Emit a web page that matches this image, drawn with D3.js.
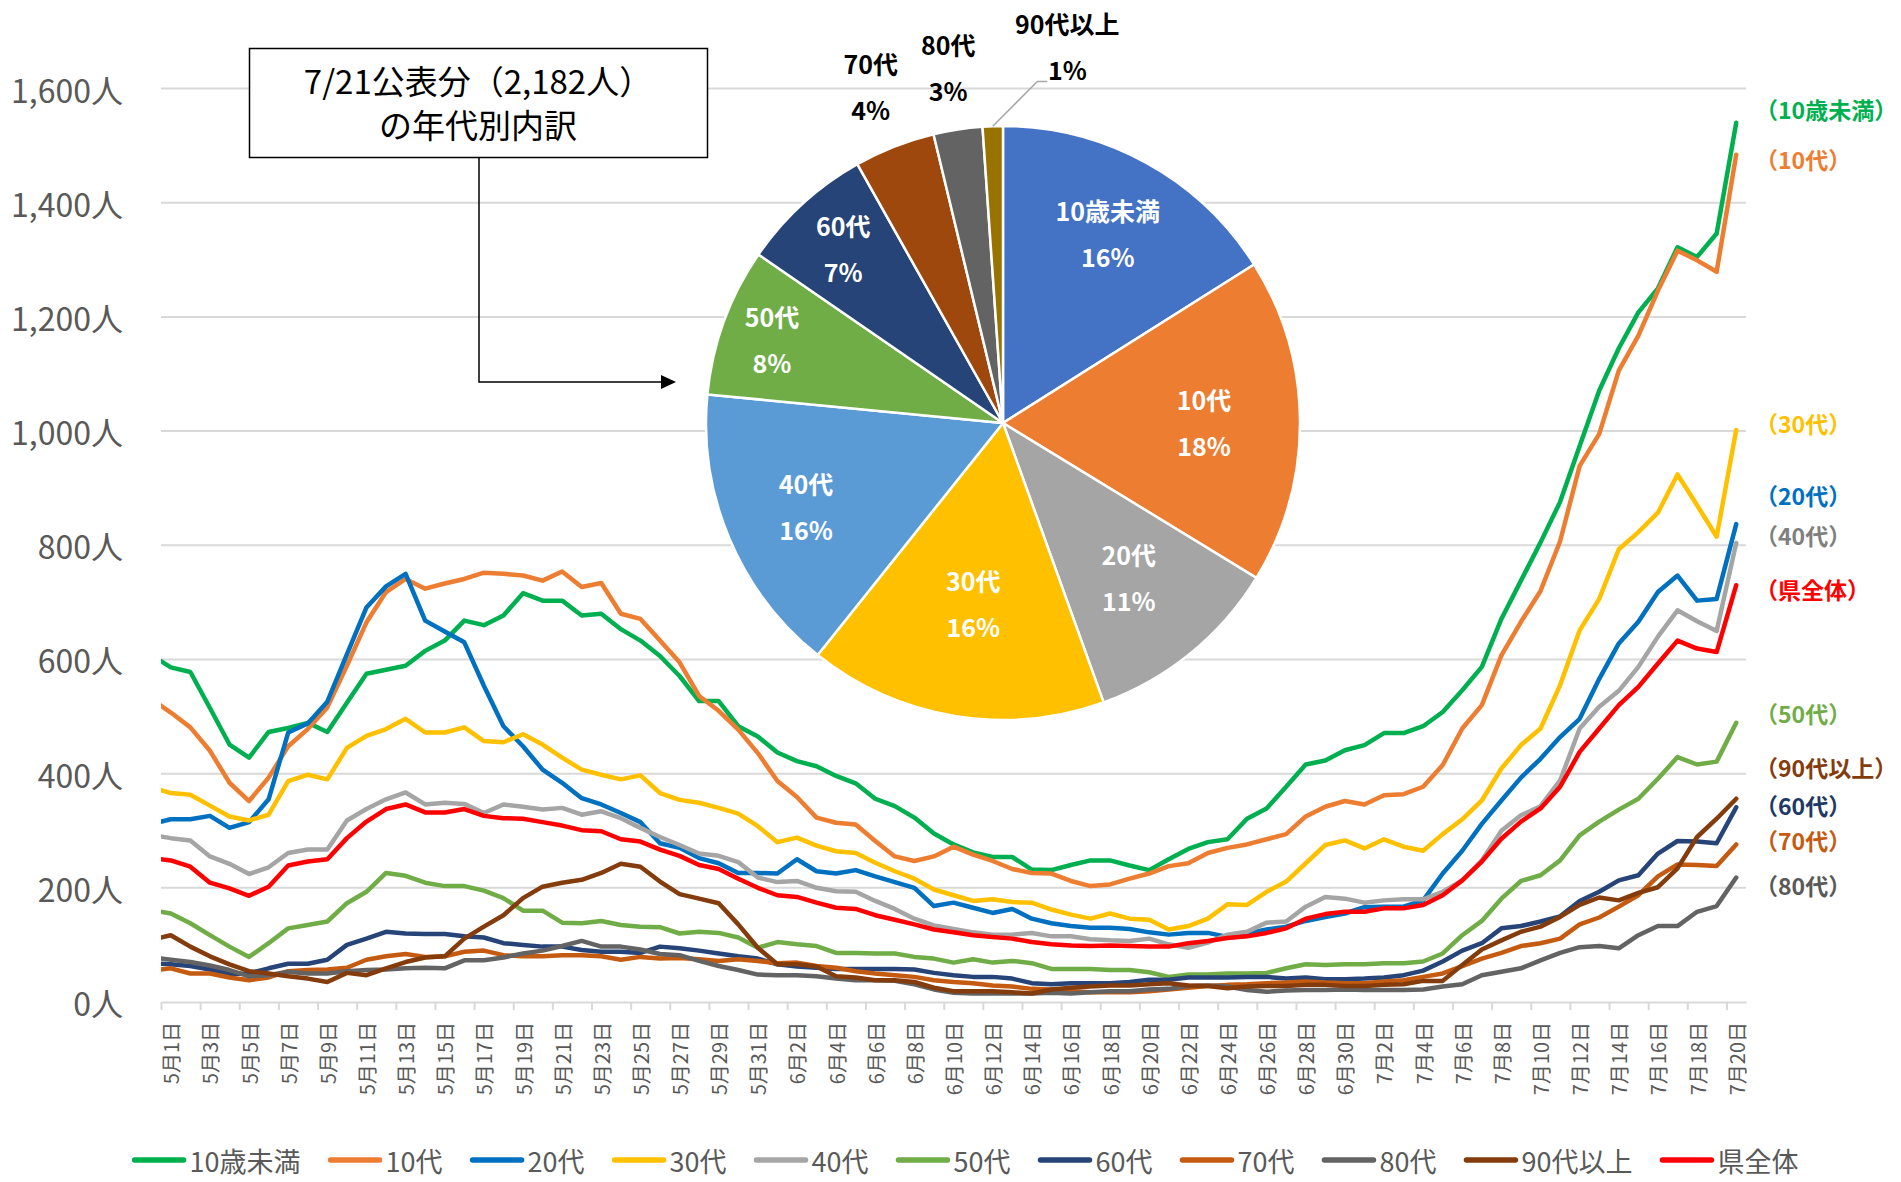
<!DOCTYPE html>
<meta charset="utf-8">
<style>
  body { margin: 0; background: #fff; }
  text { font-family: "Noto Sans CJK JP", "Noto Sans", sans-serif; }
  .grid line { stroke: #d9d9d9; stroke-width: 2; }
  .series { fill: none; stroke-width: 4.5; stroke-linejoin: round; stroke-linecap: round; }
  .ylab, .xlab, .legend text { fill: #595959; }
  .xaxis path, .xaxis line { stroke: #d9d9d9; stroke-width: 2; }
</style>
<body></body>
<script src="https://d3js.org/d3.v7.min.js"></script>
<script>
// categories: 4/30 (only the edge of it shows at the left) .. 7/20
var dates = d3.timeDay.range(new Date(2022, 3, 30), new Date(2022, 6, 21))
  .map(d => (d.getMonth() + 1) + '月' + d.getDate() + '日');

var names = ['10歳未満', '10代', '20代', '30代', '40代', '50代', '60代', '70代', '80代', '90代以上', '県全体'];

var under10 = [608,
  586, 578, 515, 451, 428, 473, 480, 489, 473, 524, 575, 582, 589, 615, 633, 668, 660, 677, 716, 703,
  703, 677, 680, 653, 633, 606, 571, 527, 527, 483, 465, 437, 422, 413, 396, 383, 356, 343, 323, 295,
  276, 262, 254, 254, 232, 231, 240, 248, 248, 239, 231, 250, 268, 280, 285, 321, 339, 377, 416, 423,
  441, 450, 471, 471, 483, 508, 546, 587, 671, 738, 805, 876, 974, 1071, 1145, 1208, 1250, 1322, 1305, 1346, 1540];
var teens = [531,
  507, 481, 440, 384, 352, 393, 448, 478, 516, 589, 665, 718, 741, 724, 733, 741, 752, 750, 747, 738,
  754, 727, 734, 680, 671, 633, 595, 536, 510, 477, 436, 387, 359, 323, 314, 311, 282, 255, 247, 255,
  272, 258, 247, 233, 226, 225, 212, 203, 206, 216, 225, 238, 243, 261, 270, 276, 285, 294, 325, 342,
  352, 346, 362, 364, 377, 415, 479, 520, 607, 666, 720, 807, 939, 995, 1106, 1167, 1246, 1316, 1299, 1279, 1484];
var twenties = [312,
  320, 320, 326, 305, 315, 355, 472, 488, 526, 609, 691, 728, 750, 668, 649, 630, 554, 483, 448, 407,
  384, 357, 346, 331, 315, 278, 270, 252, 243, 226, 226, 225, 250, 229, 225, 231, 220, 210, 200, 168,
  174, 165, 156, 163, 146, 138, 133, 130, 130, 128, 122, 118, 121, 121, 114, 120, 127, 132, 142, 149,
  155, 166, 167, 167, 178, 225, 265, 312, 353, 393, 426, 464, 496, 566, 628, 666, 718, 747, 703, 706, 837];
var thirties = [376,
  366, 363, 344, 325, 318, 328, 387, 398, 390, 445, 466, 478, 496, 472, 472, 481, 457, 455, 469, 451,
  428, 407, 398, 390, 397, 366, 354, 349, 340, 330, 308, 280, 288, 274, 264, 261, 244, 229, 216, 197,
  187, 177, 180, 175, 174, 162, 153, 146, 155, 146, 144, 127, 133, 146, 171, 170, 193, 211, 243, 275,
  283, 269, 285, 272, 265, 294, 320, 353, 409, 450, 479, 555, 651, 706, 793, 823, 857, 924, 870, 815, 1002];
var forties = [293,
  287, 283, 255, 242, 224, 236, 261, 267, 267, 318, 338, 355, 367, 346, 349, 347, 331, 346, 342, 337,
  340, 328, 334, 322, 305, 289, 275, 260, 256, 245, 218, 210, 212, 200, 194, 193, 177, 163, 146, 134,
  128, 122, 118, 118, 121, 115, 115, 110, 108, 107, 111, 101, 95, 104, 118, 123, 139, 141, 167, 184,
  181, 174, 178, 180, 180, 193, 213, 248, 300, 327, 343, 388, 479, 517, 545, 587, 640, 686, 667, 650, 804];
var fifties = [161,
  155, 138, 117, 97, 79, 103, 129, 135, 141, 173, 193, 226, 221, 209, 203, 203, 195, 182, 160, 160,
  139, 138, 142, 135, 132, 131, 120, 123, 121, 113, 95, 105, 101, 98, 86, 86, 85, 85, 79, 76,
  69, 75, 69, 72, 68, 58, 58, 58, 56, 56, 52, 44, 48, 48, 50, 50, 51, 59, 66, 65,
  66, 66, 68, 68, 71, 85, 117, 142, 181, 212, 222, 248, 292, 316, 337, 356, 391, 429, 416, 421, 489];
var sixties = [68,
  66, 63, 57, 49, 50, 59, 67, 67, 74, 100, 111, 123, 120, 119, 119, 115, 113, 103, 100, 97,
  97, 91, 88, 88, 86, 97, 94, 90, 85, 80, 76, 66, 62, 60, 58, 58, 58, 58, 57, 51,
  47, 44, 44, 41, 33, 31, 33, 33, 33, 35, 39, 39, 43, 43, 43, 44, 44, 41, 43, 40,
  40, 41, 43, 47, 55, 71, 90, 103, 129, 133, 141, 150, 177, 193, 213, 222, 260, 282, 281, 278, 341];
var seventies = [55,
  59, 50, 50, 43, 38, 43, 54, 56, 57, 60, 74, 80, 84, 79, 80, 88, 90, 82, 80, 80,
  82, 82, 80, 74, 79, 76, 77, 75, 72, 75, 72, 68, 69, 63, 60, 54, 50, 47, 44, 38,
  35, 33, 29, 27, 23, 22, 19, 17, 17, 17, 19, 22, 25, 28, 30, 31, 33, 34, 36, 34,
  33, 33, 36, 38, 44, 50, 63, 76, 86, 98, 103, 111, 136, 148, 167, 187, 220, 241, 240, 238, 276];
var eighties = [78,
  74, 70, 64, 56, 45, 47, 53, 50, 50, 54, 56, 57, 59, 60, 59, 73, 73, 78, 85, 90,
  98, 107, 97, 97, 92, 84, 82, 72, 63, 56, 48, 47, 47, 45, 41, 38, 38, 37, 31, 22,
  16, 15, 15, 15, 15, 16, 15, 17, 19, 19, 22, 23, 28, 29, 27, 21, 18, 20, 21, 21,
  22, 21, 21, 21, 22, 27, 31, 47, 53, 59, 73, 86, 96, 98, 94, 117, 133, 133, 158, 168, 218];
var over90 = [109,
  117, 97, 80, 66, 54, 50, 45, 41, 35, 51, 47, 59, 70, 78, 80, 111, 132, 152, 182, 202,
  209, 214, 226, 242, 237, 211, 189, 181, 173, 136, 95, 66, 66, 62, 45, 43, 38, 38, 35, 25,
  19, 19, 19, 17, 15, 22, 25, 27, 29, 29, 31, 33, 29, 28, 24, 27, 28, 28, 30, 30,
  28, 28, 30, 31, 37, 37, 65, 92, 108, 123, 132, 149, 170, 183, 178, 191, 201, 234, 289, 321, 356];
var prefTotal = [252,
  248, 237, 209, 199, 186, 202, 239, 246, 250, 287, 316, 338, 346, 332, 332, 338, 326, 322, 321, 315,
  309, 301, 299, 285, 281, 267, 256, 240, 233, 216, 200, 187, 184, 174, 165, 163, 152, 144, 136, 127,
  122, 117, 114, 111, 105, 101, 99, 98, 99, 98, 97, 97, 103, 107, 112, 115, 121, 129, 146, 154,
  158, 158, 164, 164, 170, 187, 213, 246, 286, 316, 339, 377, 438, 479, 520, 552, 593, 633, 619, 613, 730];

var seriesValues = [under10, teens, twenties, thirties, forties, fifties, sixties, seventies, eighties, over90, prefTotal];
var lineColors = ['#00b050', '#ed7d31', '#0070c0', '#ffc000', '#a5a5a5', '#70ad47', '#264478', '#c55a11', '#636363', '#843c0c', '#ff0000'];
var endLabelColors = ['#00b050', '#ed7d31', '#0070c0', '#ffc000', '#7f7f7f', '#70ad47', '#203864', '#c55a11', '#595959', '#843c0c', '#ff0000'];
var endLabelNudge = [-14, 4, -29, -7, -8, -10, -2, -4, 7, -32, 4];

var yTicks = [0, 200, 400, 600, 800, 1000, 1200, 1400, 1600];

// pie: 7/21 breakdown by age (2,182 people)
var pieNames = ['10歳未満', '10代', '20代', '30代', '40代', '50代', '60代', '70代', '80代', '90代以上'];
var pieCounts = [350, 386, 235, 354, 345, 176, 158, 96, 58, 24];
var pieColors = ['#4472c4', '#ed7d31', '#a5a5a5', '#ffc000', '#5b9bd5', '#70ad47', '#264478', '#9e480e', '#636363', '#997300'];

var width = 1901, height = 1182;
var plot = {left: 161, right: 1746, top: 88.5, bottom: 1002};

var svg = d3.select('body').append('svg')
  .attr('width', width)
  .attr('height', height);

var x = d3.scaleLinear().domain([0.5, dates.length - 0.5]).range([plot.left, plot.right]);
var y = d3.scaleLinear().domain([0, 1600]).range([plot.bottom, plot.top]);

// gridlines
svg.append('g').attr('class', 'grid')
  .selectAll('line')
  .data(yTicks.filter(v => v > 0))
  .join('line')
  .attr('x1', plot.left).attr('x2', plot.right)
  .attr('y1', d => y(d)).attr('y2', d => y(d));

// y labels
svg.append('g')
  .selectAll('text')
  .data(yTicks)
  .join('text')
  .attr('class', 'ylab')
  .attr('x', 123)
  .attr('y', d => y(d))
  .attr('text-anchor', 'end')
  .attr('dominant-baseline', 'central')
  .style('font-size', '32px')
  .text(d => d3.format(',')(d) + '人');

// x axis, tick marks on every second category boundary
svg.append('g')
  .attr('class', 'xaxis')
  .attr('transform', 'translate(0,' + plot.bottom + ')')
  .call(d3.axisBottom(x).tickValues(d3.range(0.5, dates.length - 1, 2)).tickSize(8).tickSizeOuter(0).tickFormat(''));

svg.append('g')
  .selectAll('text')
  .data(d3.range(1, dates.length, 2))
  .join('text')
  .attr('class', 'xlab')
  .attr('transform', i => 'translate(' + x(i) + ',1022) rotate(-90)')
  .attr('text-anchor', 'end')
  .attr('dominant-baseline', 'central')
  .style('font-size', '20px')
  .text(i => dates[i]);

// lines
svg.append('defs').append('clipPath').attr('id', 'clip')
  .append('rect')
  .attr('x', plot.left).attr('y', 0)
  .attr('width', plot.right - plot.left).attr('height', plot.bottom + 10);

var line = d3.line().x((d, i) => x(i)).y(d => y(d));

svg.append('g').attr('clip-path', 'url(#clip)')
  .selectAll('path')
  .data(seriesValues)
  .join('path')
  .attr('class', 'series')
  .attr('stroke', (d, i) => lineColors[i])
  .attr('d', line);

// end labels
svg.append('g')
  .selectAll('text')
  .data(names)
  .join('text')
  .attr('x', 1755)
  .attr('y', (d, i) => y(seriesValues[i][seriesValues[i].length - 1]) + endLabelNudge[i])
  .attr('dominant-baseline', 'central')
  .attr('fill', (d, i) => endLabelColors[i])
  .style('font-size', '23px')
  .style('font-weight', 'bold')
  .text(d => '（' + d + '）');

// legend
var legend = svg.append('g').attr('class', 'legend');
var lx = 0, gap = 27;
names.forEach(function(n, i) {
  var g = legend.append('g').attr('transform', 'translate(' + lx + ',0)');
  g.append('line')
    .attr('x1', 3).attr('x2', 52)
    .attr('stroke', lineColors[i]).attr('stroke-width', 5.5).attr('stroke-linecap', 'round');
  var t = g.append('text')
    .attr('x', 58)
    .attr('dominant-baseline', 'central')
    .style('font-size', '27px')
    .text(n);
  lx += 58 + t.node().getComputedTextLength() + gap;
});
lx -= gap;
legend.attr('transform', 'translate(' + (965 - lx / 2) + ',1160)');

// title box and arrow
svg.append('rect')
  .attr('x', 249.5).attr('y', 48.5)
  .attr('width', 458).attr('height', 109)
  .attr('fill', '#fff').attr('stroke', '#000').attr('stroke-width', 1.5);
svg.append('text')
  .attr('x', 478).attr('y', 80)
  .attr('text-anchor', 'middle').attr('dominant-baseline', 'central')
  .style('font-size', '33px')
  .text('7/21公表分（2,182人）');
svg.append('text')
  .attr('x', 478).attr('y', 124)
  .attr('text-anchor', 'middle').attr('dominant-baseline', 'central')
  .style('font-size', '33px')
  .text('の年代別内訳');
svg.append('path')
  .attr('d', 'M479,157.5V382H662')
  .attr('fill', 'none').attr('stroke', '#000').attr('stroke-width', 1.5);
svg.append('path')
  .attr('d', 'M661,375L676,382L661,389Z')
  .attr('fill', '#000');

// pie
var pieR = 297;
var pieG = svg.append('g').attr('transform', 'translate(1003,423)');
var arcs = d3.pie().sort(null).value(d => d)(pieCounts);
var arc = d3.arc().innerRadius(0).outerRadius(pieR);
var total = d3.sum(pieCounts);

pieG.selectAll('path')
  .data(arcs)
  .join('path')
  .attr('d', arc)
  .attr('fill', (d, i) => pieColors[i])
  .attr('stroke', '#fff')
  .attr('stroke-width', 2.5);

function polar(a, r) { return [r * Math.sin(a), -r * Math.cos(a)]; }
var deg = Math.PI / 180;
// label placement: [angle (null = slice middle), radius]
var pieLabelPos = [[null, 217], [null, 201], [null, 199], [null, 182], [null, 214], [null, 246], [null, 237],
  [null, 362], [null, 360], [9.7 * deg, 382]];

var labels = pieG.selectAll('g.plab')
  .data(arcs)
  .join('g')
  .attr('class', 'plab')
  .attr('transform', function(d, i) {
    var a = pieLabelPos[i][0] === null ? (d.startAngle + d.endAngle) / 2 : pieLabelPos[i][0];
    var p = polar(a, pieLabelPos[i][1]);
    return 'translate(' + p[0] + ',' + p[1] + ')';
  })
  .attr('fill', (d, i) => i < 7 ? '#fff' : '#000')
  .style('font-size', '25px')
  .style('font-weight', 'bold')
  .attr('text-anchor', 'middle');
labels.append('text').attr('y', -23).attr('dominant-baseline', 'central').text((d, i) => pieNames[i]);
labels.append('text').attr('y', 23).attr('dominant-baseline', 'central')
  .text(d => Math.round(d.value / total * 100) + '%');

// leader line for the smallest slice
var last = arcs[arcs.length - 1];
var lp = polar(pieLabelPos[9][0], pieLabelPos[9][1]);
var edge = polar((last.startAngle + last.endAngle) / 2, pieR);
pieG.append('path')
  .attr('d', 'M' + (lp[0] - 20) + ',' + (lp[1] + 35) + 'H' + (lp[0] - 30) + 'L' + edge[0] + ',' + edge[1])
  .attr('fill', 'none').attr('stroke', '#a6a6a6').attr('stroke-width', 1.5);
</script>
